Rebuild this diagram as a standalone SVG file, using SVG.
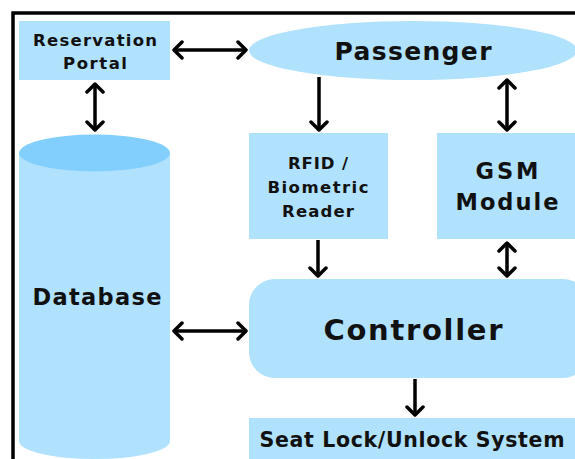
<svg xmlns="http://www.w3.org/2000/svg" width="575" height="459" viewBox="0 0 575 459">
<defs>
<style>
.n{fill:#b0e1fd;}
.top{fill:#82cffd;}
.t{font-family:"DejaVu Sans","Liberation Sans",sans-serif;font-weight:bold;fill:#111;text-anchor:middle;}
.c{stroke:#000;stroke-width:3.5;fill:none;}
</style>
<marker id="ah" markerUnits="userSpaceOnUse" markerWidth="20" markerHeight="20" viewBox="-10 -10 20 20" refX="0" refY="0" orient="auto-start-reverse">
<path d="M-8,-8 L0,0 L-8,8" fill="none" stroke="#000" stroke-width="3.5" stroke-linecap="round" stroke-linejoin="round"/>
</marker>
</defs>
<rect x="0" y="0" width="575" height="459" fill="#fff"/>
<rect x="13" y="13" width="600" height="500" fill="none" stroke="#000" stroke-width="3.5"/>

<g id="reservation-portal">
<rect class="n" x="19" y="21" width="151" height="59"/>
<text class="t" x="95" y="46" font-size="16.5" textLength="124" lengthAdjust="spacing">Reservation</text>
<text class="t" x="95" y="69" font-size="16.5" textLength="64" lengthAdjust="spacing">Portal</text>
</g>

<g id="passenger">
<ellipse class="n" cx="413" cy="50.5" rx="164" ry="29.5"/>
<text class="t" x="413" y="60" font-size="25" textLength="157" lengthAdjust="spacing">Passenger</text>
</g>

<g id="database">
<path class="n" d="M19,153 L19,441 A75.5,18 0 0 0 170,441 L170,153 Z"/>
<ellipse class="top" cx="94.5" cy="153" rx="75.5" ry="18.5"/>
<text class="t" x="97" y="305" font-size="22.5" textLength="129" lengthAdjust="spacing">Database</text>
</g>

<g id="rfid-reader">
<rect class="n" x="249" y="133" width="139" height="106"/>
<text class="t" x="318" y="169" font-size="16.5" textLength="60" lengthAdjust="spacing">RFID /</text>
<text class="t" x="318" y="193" font-size="16.5" textLength="101" lengthAdjust="spacing">Biometric</text>
<text class="t" x="318" y="217" font-size="16.5" textLength="72" lengthAdjust="spacing">Reader</text>
</g>

<g id="gsm-module">
<rect class="n" x="437" y="133" width="145" height="106"/>
<text class="t" x="507" y="179" font-size="22.5" textLength="63" lengthAdjust="spacing">GSM</text>
<text class="t" x="507" y="210" font-size="22.5" textLength="103" lengthAdjust="spacing">Module</text>
</g>

<g id="controller">
<rect class="n" x="249" y="279" width="340" height="99" rx="26" ry="26"/>
<text class="t" x="413" y="340" font-size="29" textLength="179" lengthAdjust="spacing">Controller</text>
</g>

<g id="seat-lock">
<rect class="n" x="249" y="418" width="340" height="50"/>
<text class="t" x="412" y="447" font-size="20.5" textLength="305" lengthAdjust="spacing">Seat Lock/Unlock System</text>
</g>

<g id="connectors">
<line class="c" x1="174" y1="50" x2="246" y2="50" marker-start="url(#ah)" marker-end="url(#ah)"/>
<line class="c" x1="95" y1="84" x2="95" y2="130" marker-start="url(#ah)" marker-end="url(#ah)"/>
<line class="c" x1="319" y1="77" x2="319" y2="130" marker-end="url(#ah)"/>
<line class="c" x1="507" y1="80" x2="507" y2="130" marker-start="url(#ah)" marker-end="url(#ah)"/>
<line class="c" x1="318" y1="240" x2="318" y2="276" marker-end="url(#ah)"/>
<line class="c" x1="507" y1="243" x2="507" y2="276" marker-start="url(#ah)" marker-end="url(#ah)"/>
<line class="c" x1="174" y1="331" x2="246" y2="331" marker-start="url(#ah)" marker-end="url(#ah)"/>
<line class="c" x1="415" y1="379" x2="415" y2="415" marker-end="url(#ah)"/>
</g>
</svg>
